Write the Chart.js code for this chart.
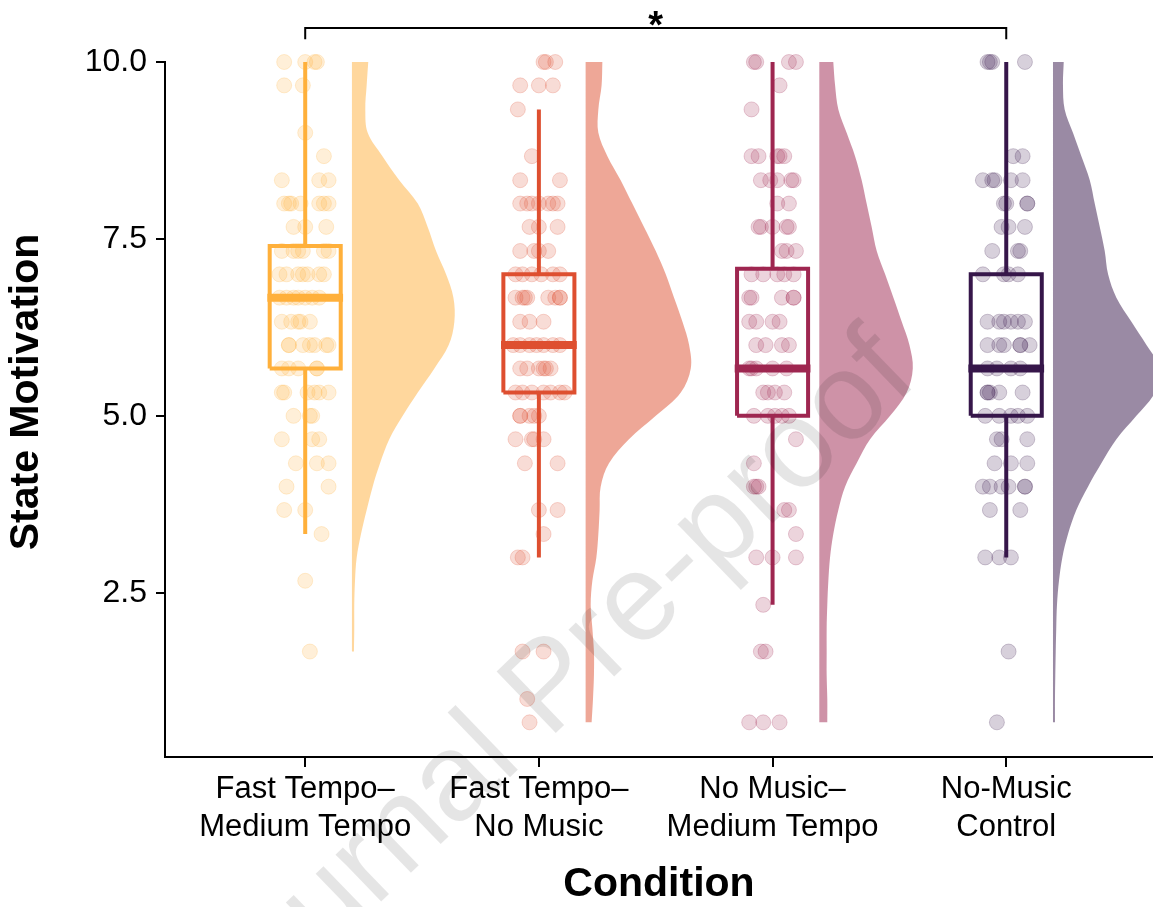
<!DOCTYPE html>
<html>
<head>
<meta charset="utf-8">
<title>State Motivation by Condition</title>
<script src="https://cdn.jsdelivr.net/npm/chart.js@4.4.0/dist/chart.umd.min.js"></script>
<style>
  html, body { margin: 0; padding: 0; background: #fff; }
  #wrap { width: 1153px; height: 907px; }
</style>
</head>
<body>
<div id="wrap"><canvas id="raincloud" width="1153" height="907"></canvas></div>
<script>
// ---- data ----
const conditions = [['Fast Tempo–', 'Medium Tempo'], ['Fast Tempo–', 'No Music'], ['No Music–', 'Medium Tempo'], ['No-Music', 'Control']];
const yTicks = [2.5, 5.0, 7.5, 10.0];

// jittered raw scores: one score level per row, then the x jitter of each point on it
const fastMediumRows = [10, 9.67, 9, 8.67, 8.33, 8, 7.67, 7.33, 7, 6.67, 6.33, 6, 5.67, 5.33, 5, 4.67, 4.33, 4, 3.67, 3.33, 2.67, 1.67];
const fastMediumJitter = [
  [-0.09, 0.00, 0.04, 0.05], [-0.09, -0.01], [0.00], [0.08], [-0.10, 0.06, 0.10],
  [-0.09, -0.07, -0.06, -0.02, 0.06, 0.08, 0.10], [-0.05, 0.00, 0.09], [-0.10, -0.05, -0.03, -0.01, 0.08, 0.10],
  [-0.11, -0.08, -0.03, -0.01, 0.01, 0.06, 0.08], [-0.11, -0.08, -0.05, -0.03, 0.00, 0.03, 0.06],
  [-0.10, -0.06, -0.03, -0.02, 0.02], [-0.07, -0.07, -0.01, 0.02, 0.04, 0.09, 0.10], [-0.10, -0.07, -0.03, 0.05, 0.05],
  [-0.10, -0.09, 0.01, 0.04, 0.06, 0.10], [-0.05, 0.02, 0.03], [-0.10, 0.03, 0.06], [-0.04, 0.05, 0.10],
  [-0.08, 0.10], [-0.09, 0.00], [0.07], [0.00], [0.02]
];
const fastNoneRows = [10, 9.67, 9.33, 8.67, 8.33, 8, 7.67, 7.33, 7, 6.67, 6.33, 6, 5.67, 5.33, 5, 4.67, 4.33, 3.67, 3.33, 3, 1.67, 1, 0.67];
const fastNoneJitter = [
  [0.02, 0.03, 0.07], [-0.08, 0.00, 0.06], [-0.09], [-0.03], [-0.08, 0.09],
  [-0.08, -0.05, -0.03, 0.00, 0.04, 0.06, 0.08], [-0.04, 0.00, 0.08], [-0.08, -0.02, 0.00, 0.04],
  [-0.10, -0.07, -0.03, 0.01, 0.06, 0.09], [-0.10, -0.07, -0.06, -0.05, 0.04, 0.07, 0.09, 0.09],
  [-0.08, -0.04, 0.02], [-0.11, -0.08, -0.04, -0.01, 0.02, 0.06, 0.09], [-0.08, -0.05, 0.00, 0.02, 0.03, 0.05],
  [-0.10, -0.07, -0.03, 0.02, 0.05, 0.09, 0.11], [-0.08, -0.08, -0.04, -0.02, 0.00], [-0.10, -0.03, -0.02, 0.02],
  [-0.06, 0.08], [0.00, 0.08], [0.02], [-0.09, -0.07], [-0.07, 0.02], [-0.05], [-0.04]
];
const noneMediumRows = [10, 9.67, 9.33, 8.67, 8.33, 8, 7.67, 7.33, 7, 6.67, 6.33, 6, 5.67, 5.33, 5, 4.67, 4.33, 4, 3.67, 3.33, 3, 2.33, 1.67, 0.67];
const noneMediumJitter = [
  [-0.08, -0.07, 0.07, 0.10], [0.03], [-0.09], [-0.09, -0.06, 0.02, 0.03, 0.05], [-0.05, -0.01, 0.02, 0.08, 0.09],
  [0.02, 0.07], [-0.06, -0.05, 0.00, 0.06, 0.07], [0.04, 0.06, 0.10], [-0.09, -0.04, 0.02, 0.05, 0.09],
  [-0.10, -0.09, 0.04, 0.09, 0.09], [-0.10, -0.07, 0.00, 0.03], [-0.07, -0.03, 0.04, 0.07],
  [-0.10, -0.09, -0.07, 0.00, 0.06], [-0.04, -0.02, 0.01, 0.05], [-0.08, -0.02, 0.01, 0.04, 0.07],
  [0.10], [-0.08], [-0.08, -0.07, -0.06], [0.05, 0.07], [0.10], [-0.07, 0.00, 0.10], [-0.04], [-0.05, -0.03], [-0.10, -0.04, 0.03]
];
const controlRows = [10, 8.67, 8.33, 8, 7.67, 7.33, 7, 6.33, 6, 5.67, 5.33, 5, 4.67, 4.33, 4, 3.67, 3, 1.67, 0.67];
const controlJitter = [
  [-0.08, -0.07, -0.06, 0.08], [0.03, 0.07], [-0.10, -0.06, -0.05, 0.02, 0.07], [-0.01, 0.00, 0.09, 0.09],
  [-0.02, 0.01, 0.08], [-0.06, 0.05, 0.06], [-0.10, -0.01, 0.01, 0.05], [-0.08, -0.03, -0.01, 0.02, 0.05, 0.08],
  [-0.08, -0.03, -0.01, 0.06, 0.06, 0.10], [-0.08, -0.04, 0.02, 0.06], [-0.08, -0.08, -0.07, -0.03, 0.07],
  [-0.09, -0.03, 0.02, 0.05, 0.09], [-0.04, -0.02, 0.09], [-0.05, 0.02, 0.09], [-0.10, -0.07, -0.02, 0.01, 0.08, 0.08],
  [-0.07, 0.06], [-0.09, -0.03, 0.02], [0.01], [-0.04]
];

// box plot statistics per condition
const whiskerLow = [3.33, 3.0, 2.33, 3.0];
const q1 = [5.67, 5.33, 5.0, 5.0];
const median = [6.67, 6.0, 5.67, 5.67];
const q3 = [7.4, 7.0, 7.08, 7.0];
const whiskerHigh = [10, 9.33, 10, 10];

// half-violin densities (relative), from the top level down
const densityLevels = [10, 9.67, 9.33, 9, 8.67, 8.33, 8, 7.67, 7.33, 7, 6.67, 6.33, 6, 5.67, 5.33, 5, 4.67, 4.33, 4, 3.67, 3.33, 3, 2.67, 2.33, 2, 1.67, 1.33, 1, 0.67];
const fastMediumDensity = [0.155, 0.14, 0.127, 0.15, 0.29, 0.45, 0.626, 0.72, 0.8, 0.895, 0.965, 0.974, 0.92, 0.784, 0.626, 0.483, 0.355, 0.267, 0.197, 0.14, 0.086, 0.045, 0.029, 0.022, 0.022, 0.019];
const fastNoneDensity = [0.159, 0.152, 0.121, 0.121, 0.207, 0.333, 0.444, 0.555, 0.667, 0.762, 0.841, 0.921, 0.984, 1.0, 0.905, 0.667, 0.412, 0.222, 0.143, 0.133, 0.121, 0.102, 0.064, 0.048, 0.064, 0.079, 0.079, 0.07, 0.057];
const noneMediumDensity = [0.133, 0.15, 0.181, 0.26, 0.34, 0.403, 0.45, 0.498, 0.546, 0.626, 0.705, 0.784, 0.857, 0.889, 0.831, 0.673, 0.483, 0.355, 0.245, 0.181, 0.133, 0.102, 0.086, 0.076, 0.07, 0.07, 0.07, 0.076, 0.076];
const controlDensity = [0.102, 0.095, 0.111, 0.19, 0.27, 0.35, 0.397, 0.445, 0.492, 0.524, 0.603, 0.746, 0.889, 1.016, 0.969, 0.793, 0.603, 0.46, 0.333, 0.222, 0.143, 0.089, 0.057, 0.038, 0.031, 0.026, 0.022, 0.019, 0.019];

// significance bracket between conditions 1 and 4
const sigPair = [1, 4];
const sigLabel = '*';

// ---- style ----
const palette = [[255, 176, 59], [222, 79, 48], [158, 38, 80], [54, 22, 74]];
const rgba = (c, a) => `rgba(${c[0]},${c[1]},${c[2]},${a})`;
const FONT = "'Liberation Sans', Arial, Helvetica, sans-serif";
const BOX_HALF = 0.152;
const VIOLIN_GAP = 0.2;
const VIOLIN_SCALE = 0.45;

const rows = [fastMediumRows, fastNoneRows, noneMediumRows, controlRows];
const jitters = [fastMediumJitter, fastNoneJitter, noneMediumJitter, controlJitter];
const densities = [fastMediumDensity, fastNoneDensity, noneMediumDensity, controlDensity];

const boxDatasets = [];
const pointDatasets = [];
const violinDatasets = [];

const lineBase = { type: 'line', pointRadius: 0, tension: 0.000001, fill: false, clip: false };

conditions.forEach((c, i) => {
  const cx = i + 1;
  const col = palette[i];

  // box outline, whiskers and median
  boxDatasets.push(Object.assign({}, lineBase, {
    data: [
      { x: cx - BOX_HALF, y: q1[i] }, { x: cx + BOX_HALF, y: q1[i] },
      { x: cx + BOX_HALF, y: q3[i] }, { x: cx - BOX_HALF, y: q3[i] }, { x: cx - BOX_HALF, y: q1[i] }
    ],
    borderColor: rgba(col, 1), borderWidth: 4, borderJoinStyle: 'miter'
  }));
  boxDatasets.push(Object.assign({}, lineBase, {
    data: [{ x: cx, y: q3[i] }, { x: cx, y: whiskerHigh[i] }],
    borderColor: rgba(col, 1), borderWidth: 4, borderCapStyle: 'butt'
  }));
  boxDatasets.push(Object.assign({}, lineBase, {
    data: [{ x: cx, y: q1[i] }, { x: cx, y: whiskerLow[i] }],
    borderColor: rgba(col, 1), borderWidth: 4, borderCapStyle: 'butt'
  }));
  boxDatasets.push(Object.assign({}, lineBase, {
    data: [{ x: cx - BOX_HALF - 0.01, y: median[i] }, { x: cx + BOX_HALF + 0.01, y: median[i] }],
    borderColor: rgba(col, 1), borderWidth: 8, borderCapStyle: 'butt'
  }));

  // raw points
  const pts = [];
  rows[i].forEach((v, r) => jitters[i][r].forEach(j => pts.push({ x: cx + j, y: v })));
  pointDatasets.push({
    type: 'scatter', data: pts, clip: false,
    pointRadius: 7.5, pointBorderWidth: 1,
    backgroundColor: rgba(col, 0.2), borderColor: rgba(col, 0.22)
  });

  // half violin: left edge at cx + gap, right edge follows the density
  const dens = densities[i];
  const base = cx + VIOLIN_GAP;
  const levels = densityLevels.slice(0, dens.length);
  const right = levels.map((lv, k) => ({ x: base + dens[k] * VIOLIN_SCALE, y: lv })).reverse();
  violinDatasets.push(Object.assign({}, lineBase, {
    data: [{ x: base, y: right[0].y }, right[0]].concat(right, [right[right.length - 1], { x: base, y: levels[0] }]),
    tension: 0.35,
    borderWidth: 0,
    borderColor: 'rgba(0,0,0,0)',
    backgroundColor: rgba(col, 0.5),
    fill: 'shape'
  }));
});

const bracketTop = 10.48;
const bracketFoot = 10.32;
const bracketDataset = Object.assign({}, lineBase, {
  data: [
    { x: sigPair[0], y: bracketFoot }, { x: sigPair[0], y: bracketTop },
    { x: sigPair[1], y: bracketTop }, { x: sigPair[1], y: bracketFoot }
  ],
  borderColor: '#000', borderWidth: 2, borderJoinStyle: 'miter'
});

const extras = {
  id: 'extras',
  afterDraw(chart) {
    const { ctx, scales } = chart;
    const x = scales.x, y = scales.y;
    ctx.save();
    // significance star
    ctx.fillStyle = '#000';
    ctx.font = `bold 38px ${FONT}`;
    ctx.textAlign = 'center';
    ctx.textBaseline = 'alphabetic';
    ctx.fillText(sigLabel, x.getPixelForValue((sigPair[0] + sigPair[1]) / 2), y.getPixelForValue(bracketTop) + 10);
    // y axis title
    ctx.save();
    ctx.translate(27, 392);
    ctx.rotate(-Math.PI / 2);
    ctx.font = `bold 41px ${FONT}`;
    ctx.textBaseline = 'middle';
    ctx.fillText('State Motivation', 0, 0);
    ctx.restore();
    // journal watermark
    ctx.translate(552, 689);
    ctx.rotate(-44 * Math.PI / 180);
    ctx.font = `124px ${FONT}`;
    ctx.fillStyle = 'rgba(0,0,0,0.1)';
    ctx.textBaseline = 'middle';
    ctx.fillText('Journal Pre-proof', 0, 0);
    ctx.restore();
  }
};

new Chart(document.getElementById('raincloud'), {
  type: 'scatter',
  data: { datasets: [bracketDataset].concat(boxDatasets, pointDatasets, violinDatasets) },
  options: {
    responsive: false,
    animation: false,
    events: [],
    layout: { autoPadding: false, padding: { top: 62, right: 0, bottom: 0, left: 0 } },
    plugins: { legend: { display: false }, tooltip: { enabled: false } },
    scales: {
      x: {
        type: 'linear', min: 0.4, max: 4.628,
        afterBuildTicks: a => { a.ticks = conditions.map((c, i) => ({ value: i + 1 })); },
        afterFit: a => { a.height = 150; },
        ticks: {
          autoSkip: false, maxRotation: 0, padding: 3, color: '#000',
          font: { family: FONT, size: 31, lineHeight: 1.24 },
          callback: v => conditions[Math.round(v) - 1]
        },
        grid: { display: true, drawOnChartArea: false, drawTicks: true, tickLength: 10, lineWidth: 2, color: '#000' },
        border: { display: true, color: '#000', width: 2 },
        title: {
          display: true, text: 'Condition', color: '#000',
          font: { family: FONT, size: 41, weight: 'bold', lineHeight: 1 },
          padding: { top: 0, bottom: 2 }
        }
      },
      y: {
        type: 'linear', min: 0.18, max: 10,
        afterBuildTicks: a => { a.ticks = yTicks.map(v => ({ value: v })); },
        afterFit: a => { a.width = 165; },
        ticks: {
          padding: 9, color: '#000',
          font: { family: FONT, size: 32 },
          callback: v => v.toFixed(1)
        },
        grid: { display: true, drawOnChartArea: false, drawTicks: true, tickLength: 9, lineWidth: 2, color: '#000' },
        border: { display: true, color: '#000', width: 2 }
      }
    }
  },
  plugins: [extras]
});
</script>
</body>
</html>
